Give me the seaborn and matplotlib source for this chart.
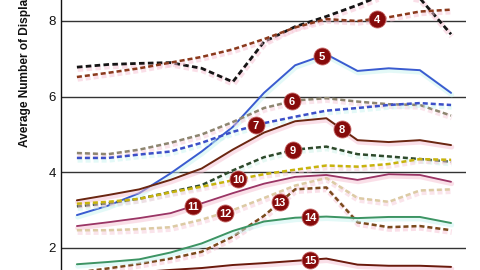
import numpy as np
import pandas as pd
import matplotlib
matplotlib.use("Agg")
import matplotlib.pyplot as plt
import matplotlib.patheffects as pe
import seaborn as sns

# ---------------- data ----------------
periods = list(range(13))

s3 = [6.78, 6.85, 6.88, 6.90, 6.75, 6.39, 7.45, 7.85, 8.12, 8.42, 8.75, 8.60, 7.65]
s4 = [6.52, 6.63, 6.75, 6.90, 7.05, 7.25, 7.52, 7.83, 8.05, 8.00, 8.10, 8.25, 8.30]
s5 = [2.87, 3.12, 3.45, 3.97, 4.55, 5.20, 6.10, 6.83, 7.12, 6.68, 6.75, 6.70, 6.10]
s6 = [4.51, 4.48, 4.60, 4.78, 5.00, 5.33, 5.70, 5.90, 5.96, 5.87, 5.80, 5.78, 5.50]
s7 = [4.38, 4.38, 4.47, 4.55, 4.78, 5.07, 5.30, 5.47, 5.63, 5.70, 5.78, 5.83, 5.78]
s8 = [3.26, 3.40, 3.55, 3.80, 4.10, 4.60, 5.05, 5.35, 5.43, 4.85, 4.80, 4.85, 4.72]
s9 = [3.10, 3.18, 3.30, 3.48, 3.66, 4.05, 4.40, 4.60, 4.68, 4.48, 4.42, 4.35, 4.28]
s10 = [3.17, 3.22, 3.30, 3.47, 3.62, 3.79, 3.95, 4.07, 4.18, 4.15, 4.22, 4.35, 4.33]
s11 = [2.58, 2.68, 2.79, 2.92, 3.18, 3.45, 3.70, 3.88, 3.93, 3.80, 3.95, 3.93, 3.75]
s12 = [2.47, 2.47, 2.50, 2.55, 2.75, 3.00, 3.32, 3.65, 3.85, 3.32, 3.22, 3.52, 3.55]
s13 = [1.35, 1.46, 1.58, 1.72, 1.90, 2.30, 2.85, 3.55, 3.60, 2.68, 2.55, 2.58, 2.47]
s14 = [1.57, 1.63, 1.70, 1.88, 2.12, 2.45, 2.70, 2.80, 2.83, 2.79, 2.82, 2.82, 2.66]
s15 = [1.30, 1.33, 1.36, 1.42, 1.47, 1.55, 1.60, 1.66, 1.72, 1.56, 1.53, 1.53, 1.50]

series_ids = ["3", "4", "5", "6", "7", "8", "9", "10", "11", "12", "13", "14", "15"]
series_vals = [s3, s4, s5, s6, s7, s8, s9, s10, s11, s12, s13, s14, s15]

# where along each line (in period units) the numbered badge sits
badge_ids = ["4", "5", "6", "7", "8", "9", "10", "11", "12", "13", "14", "15"]
badge_pos = [9.62, 7.86, 6.90, 5.74, 8.50, 6.93, 5.17, 3.72, 4.75, 6.51, 7.48, 7.48]

y_ticks = [2, 4, 6, 8]
y_label = "Average Number of Displaced Persons"

# ---------------- styles ----------------
styles = {
    "3":  dict(color="#151515", dashed=True,  lw=2.0, glow="#f7c0d2"),
    "4":  dict(color="#8a3a1c", dashed=True,  lw=1.8, glow="#f7c0d2"),
    "5":  dict(color="#3a5bd0", dashed=False, lw=1.4, glow="#c8f4f0"),
    "6":  dict(color="#8d8670", dashed=True,  lw=1.8, glow="#f7cad8"),
    "7":  dict(color="#3d4fc8", dashed=True,  lw=1.8, glow="#c8f4f0"),
    "8":  dict(color="#6a2610", dashed=False, lw=1.4, glow="#f7c0d2"),
    "9":  dict(color="#2f4a2c", dashed=True,  lw=1.8, glow="#cdf2e8"),
    "10": dict(color="#c7b40c", dashed=True,  lw=1.8, glow="#f7cad8"),
    "11": dict(color="#9a3565", dashed=False, lw=1.3, glow="#f7c0d2"),
    "12": dict(color="#dccba4", dashed=True,  lw=1.8, glow="#f7cad8"),
    "13": dict(color="#7a4a1c", dashed=True,  lw=1.8, glow="#f7c0d2"),
    "14": dict(color="#3d9463", dashed=False, lw=1.4, glow="#c8f4f0"),
    "15": dict(color="#6a1a0c", dashed=False, lw=1.4, glow="#f7c0d2"),
}

sns.set_theme(style="white")
plt.rcParams["font.family"] = ["Liberation Sans", "DejaVu Sans"]

W, H = 480, 270
fig = plt.figure(figsize=(W / 100, H / 100), dpi=100)
ax = fig.add_axes([61 / W, 0, (466 - 61) / W, 1])

df = pd.DataFrame({
    "period": np.tile(periods, len(series_ids)),
    "value": np.concatenate(series_vals),
    "series": np.repeat(series_ids, len(periods)),
})

for sid in series_ids:
    st = styles[sid]
    sub = df[df["series"] == sid]
    ls = (0, (2.0, 1.2)) if st["dashed"] else "-"
    sns.lineplot(data=sub, x="period", y="value", ax=ax, color=st["color"],
                 lw=st["lw"], linestyle=ls, legend=False, zorder=3)
    line = ax.lines[-1]
    line.set_dash_capstyle("butt")
    line.set_path_effects([
        pe.SimpleLineShadow(offset=(0.5, -1.4), shadow_color=st["glow"],
                            alpha=0.5, linewidth=st["lw"] + 2.2),
        pe.Normal(),
    ])

# numbered badges
for bid, pos in zip(badge_ids, badge_pos):
    vals = series_vals[series_ids.index(bid)]
    yv = np.interp(pos, periods, vals)
    ax.scatter([pos], [yv], s=150, color="#860a0a", edgecolor="#c86a6a",
               linewidth=0.6, zorder=5)
    ax.text(pos, yv, bid, color="white", fontsize=8, fontweight="bold",
            ha="center", va="center_baseline", zorder=6,
            family=["Liberation Sans Narrow", "Liberation Sans", "DejaVu Sans"])

# axes cosmetics
ax.set_xlim(-0.51, 12.48)
ax.set_ylim(1.418, 8.555)
ax.set_xticks([])
ax.set_yticks(y_ticks)
ax.set_yticklabels([str(t) for t in y_ticks])
ax.tick_params(axis="y", length=0, pad=3.5, labelsize=9.5, labelcolor="#111111")
ax.set_xlabel("")
ax.set_ylabel("")
ax.yaxis.grid(True, color="#333333", lw=1.0)
ax.xaxis.grid(False)
ax.set_axisbelow(True)
for sp in ["top", "right", "bottom"]:
    ax.spines[sp].set_visible(False)
ax.spines["left"].set_color("#111111")
ax.spines["left"].set_linewidth(1.0)

fig.text(25.5 / W, 1 - 147 / H, y_label, rotation=90, ha="center", va="bottom",
         fontsize=8.6, fontweight="bold", color="#111111")

fig.savefig("out.png", dpi=100)
